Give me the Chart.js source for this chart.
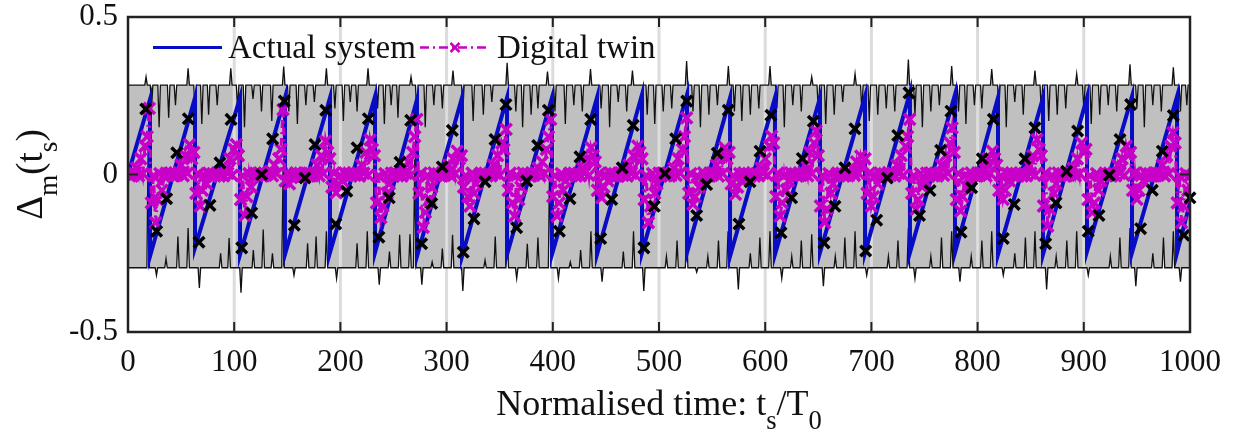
<!DOCTYPE html>
<html>
<head>
<meta charset="utf-8">
<script src="https://cdn.jsdelivr.net/npm/chart.js@4.4.0/dist/chart.umd.min.js"></script>
<style>
  html, body { margin: 0; padding: 0; background: #fff; }
</style>
</head>
<body>
<canvas id="myChart" width="1240" height="438"></canvas>
<script>
// actual system: sawtooth, one drop per cycle (time, value just before, value just after)
const dropTimes = [20.7, 63.1, 105.5, 147.8, 190.2, 232.6, 272.1, 314.5, 356.9, 399.2, 441.6, 484,
  526.4, 566.9, 609.2, 651.6, 694, 736.3, 778.7, 819.2, 861.6, 903, 945.4, 987.8];
const peakVals = [0.238, 0.244, 0.244, 0.244, 0.244, 0.248, 0.238, 0.244, 0.244, 0.244, 0.244, 0.254,
  0.254, 0.244, 0.244, 0.244, 0.248, 0.26, 0.254, 0.244, 0.244, 0.244, 0.248, 0.248];
const troughVals = [-0.26, -0.232, -0.254, -0.254, -0.248, -0.248, -0.26, -0.26, -0.254, -0.254, -0.254, -0.248,
  -0.248, -0.26, -0.254, -0.248, -0.248, -0.248, -0.248, -0.254, -0.254, -0.244, -0.248, -0.248];
const startVal = 0;
const endVal = -0.09;

// black sample crosses on the actual system
const sampleT = [16.7, 27, 36.4, 45.9, 56.8, 66.9, 77.2, 86.6, 97, 107.1, 116.5, 125.9, 136.2, 147.2, 156.6, 166.7,
  176.1, 186.2, 195.6, 206, 215.7, 226.3, 236.3, 246, 256.1, 266.2, 276.5, 286, 295.9, 305.4, 315.7, 325.8,
  336.2, 345.6, 355.9, 366, 375.4, 385.8, 395.8, 406.2, 416.2, 425.6, 435.7, 445.1, 455.5, 465.4, 475.7, 485.8,
  495.6, 505.6, 515.7, 526.1, 535.5, 544.9, 554.9, 565.2, 575.3, 585.7, 595.1, 605.4, 614.9, 624.9, 634.9, 645.3,
  655.4, 665.7, 675.1, 684.5, 694.6, 705, 715, 724.8, 735.4, 745.3, 755.2, 765.2, 774.9, 784.4, 794.4, 804.4,
  814.8, 824.2, 834.5, 844.6, 854, 864.1, 873.8, 883.8, 894.2, 904.2, 914.3, 924, 934.1, 944.1, 953.5, 964.5,
  973.9, 984.3, 994.3, 1000];
const sampleV = [0.208, -0.18, -0.077, 0.069, 0.177, -0.215, -0.098, 0.037, 0.175, -0.233, -0.122, 0, 0.113, 0.233, -0.161, -0.011,
  0.095, 0.204, -0.157, -0.053, 0.085, 0.177, -0.199, -0.074, 0.039, 0.172, -0.22, -0.092, 0.024, 0.14, -0.247, -0.141,
  -0.023, 0.111, 0.222, -0.169, -0.021, 0.092, 0.204, -0.18, -0.077, 0.056, 0.175, -0.203, -0.079, 0.021, 0.156, -0.233,
  -0.101, 0.003, 0.113, 0.233, -0.13, -0.032, 0.067, 0.204, -0.157, -0.023, 0.074, 0.188, -0.185, -0.074, 0.051, 0.169,
  -0.217, -0.101, 0.021, 0.145, -0.243, -0.145, -0.011, 0.124, 0.259, -0.13, -0.051, 0.077, 0.201, -0.183, -0.042, 0.05,
  0.175, -0.203, -0.095, 0.05, 0.148, -0.22, -0.09, 0.01, 0.138, -0.18, -0.13, -0.002, 0.111, 0.222, -0.172, -0.05,
  0.074, 0.187, -0.193, -0.074];

// digital twin, one value every twinStep time units
const twinStep = 2;
const twinVals = [
  0, .004, -.005, .003, .02, -.004, .05, .003, .09, .12, .21, -.09, -.004, -.153, -.08, .003, -.05, -.005, .004, -.003, .005,
  -.004, .005, -.003, .004, .03, -.004, .06, .004, .095, .05, .07, -.06, .003, -.1, -.05, -.004, -.03, .004, -.005, .003, -.004,
  .004, -.005, .003, -.004, .02, .004, .05, -.003, .08, .095, .06, -.08, -.004, -.13, -.07, .003, -.04, -.005, .004, -.003, .005,
  -.005, .004, -.003, .005, .01, -.004, .03, .003, .05, .08, .206, -.02, .004, -.03, -.01, -.004, .005, -.003, .004, -.005, .003,
  .004, -.005, .003, -.004, .005, .03, -.004, .06, .003, .106, .07, .05, -.04, .004, -.058, -.03, -.004, -.02, .005, -.003, .004,
  -.004, .005, -.003, .004, -.005, .03, .004, .07, -.003, .11, .08, .06, -.09, -.004, -.137, -.1, .003, -.06, -.03, .004, -.005,
  .005, -.004, .003, -.005, .02, .004, .04, -.003, .07, .12, .175, -.06, .004, -.168, -.12, -.003, -.08, -.04, .005, -.004, .003,
  -.004, .005, -.003, .004, .03, -.005, .05, .003, .074, .05, .06, -.04, -.004, -.07, -.1, .004, -.06, -.03, -.005, .003, -.004,
  .004, -.005, .003, -.004, .03, .004, .06, -.003, .1, .08, .143, -.05, .004, -.09, -.132, -.003, -.08, -.04, .005, -.004, .003,
  -.005, .004, -.003, .005, .02, -.004, .04, .003, .08, .12, .175, -.07, -.004, -.132, -.09, .003, -.05, -.02, -.005, .004, -.003,
  .004, -.005, .003, -.004, .02, .004, .05, -.003, .085, .06, .04, -.05, .004, -.074, -.04, -.003, -.02, .005, -.004, .003, -.005,
  -.004, .005, -.003, .004, -.005, .03, .004, .06, -.003, .09, .07, .05, -.08, -.004, -.153, -.1, .003, -.06, -.03, .004, -.005,
  .005, -.004, .003, -.005, .004, .02, -.003, .05, .004, .08, .12, .18, -.06, .003, -.095, -.07, -.004, -.04, -.02, .005, -.003,
  -.004, .005, -.003, .004, .03, -.005, .06, .003, .085, .05, .07, -.03, -.004, -.063, -.04, .003, -.02, .005, -.004, .003, -.005,
  .004, -.005, .003, -.004, .02, .004, .05, -.003, .09, .122, .1, -.07, .004, -.132, -.09, -.003, -.05, -.02, .005, -.004, .003,
  -.005, .004, -.003, .005, .03, -.004, .07, .003, .1, .138, .06, -.1, -.004, -.153, -.11, .003, -.06, -.03, -.005, .004, -.003,
  .004, -.005, .003, -.004, .005, .02, -.003, .04, .004, .058, .03, .05, -.06, .004, -.1, -.07, -.003, -.03, .005, -.004, .003,
  -.004, .005, -.003, .004, -.005, .03, .004, .06, -.003, .09, .12, .175, -.06, -.004, -.111, -.08, .003, -.04, -.02, .004, -.005,
  .005, -.004, .003, -.005, .004, .03, -.003, .06, .004, .1, .148, .07, -.08, .003, -.116, -.07, -.004, -.04, -.01, .005, -.003,
  -.004, .005, -.003, .004, .02, -.005, .05, .003, .074, .05, .03, -.05, -.004, -.079, -.05, .003, -.02, .005, -.004, .003, -.005,
  .004, -.005, .003, -.004, .03, .004, .06, -.003, .111, .08, .06, -.1, .004, -.164, -.11, -.003, -.06, -.03, .005, -.004, .003,
  -.005, .004, -.003, .005, .02, -.004, .05, .003, .1, .07, .08, -.08, -.004, -.121, -.09, .003, -.05, -.02, -.005, .004, -.003,
  .004, -.005, .003, -.004, .03, .004, .05, -.003, .09, .06, .07, -.05, .004, -.079, -.05, -.003, -.02, .005, -.004, .003, -.005,
  -.004, .005, -.003, .004, .03, -.004, .06, .003, .09, .133, .1, -.09, -.004, -.153, -.1, .003, -.05, -.005
];

// grey envelope: flat edges with narrow spikes
const bandTop = 0.284;
const bandBottom = -0.296;
const upperSpikeT = [17, 22.2, 29.3, 38.3, 44.7, 56.6, 63.1, 69.5, 75.9, 84, 96.8, 103.2, 109.7, 117.7, 125.7, 135.4,
  146.6, 151.4, 159.5, 167.5, 175.5, 186.8, 194.8, 202.8, 209.3, 215.7, 226, 235, 241.4, 247.8, 254.2,
  266.5, 271.9, 279.9, 288, 296, 306, 315.3, 325, 334.6, 342.6, 357, 365.2, 371.6, 379.6, 386,
  395, 402, 411.8, 419.8, 427.8, 435.5, 445.5, 453.5, 461.6, 469.6, 475, 488.9, 496, 504, 512,
  526, 532, 539, 547, 555, 565.3, 571, 578, 586, 594, 604.5, 611, 618, 626, 634,
  643.8, 650, 657, 665, 673, 684.6, 691, 698, 706, 714, 722, 734.8, 741, 748, 756, 764,
  775.6, 782, 789, 797, 804, 813.3, 820, 827, 835, 843, 854, 860, 867, 875, 883,
  893.3, 900, 907, 915, 923, 931, 943.5, 950, 957, 965, 973, 984.3, 991, 997];
const upperSpikeV = [0.31, 0.21, 0.15, 0.18, 0.22, 0.337, 0.2, 0.16, 0.19, 0.22, 0.337, 0.21, 0.15, 0.24, 0.2, 0.17,
  0.343, 0.2, 0.16, 0.22, 0.23, 0.337, 0.21, 0.17, 0.23, 0.2, 0.337, 0.21, 0.16, 0.22, 0.18,
  0.31, 0.19, 0.15, 0.22, 0.21, 0.33, 0.2, 0.17, 0.19, 0.23, 0.355, 0.2, 0.15, 0.19, 0.21,
  0.327, 0.2, 0.16, 0.22, 0.2, 0.335, 0.21, 0.15, 0.23, 0.2, 0.33, 0.19, 0.16, 0.2, 0.21,
  0.36, 0.2, 0.15, 0.19, 0.22, 0.344, 0.2, 0.17, 0.19, 0.21, 0.344, 0.21, 0.15, 0.22, 0.2,
  0.31, 0.2, 0.16, 0.19, 0.23, 0.32, 0.2, 0.17, 0.19, 0.21, 0.2, 0.365, 0.19, 0.15, 0.2, 0.22,
  0.344, 0.2, 0.16, 0.22, 0.21, 0.335, 0.21, 0.15, 0.23, 0.19, 0.33, 0.2, 0.17, 0.19, 0.21,
  0.32, 0.2, 0.16, 0.19, 0.22, 0.2, 0.35, 0.21, 0.15, 0.22, 0.2, 0.34, 0.2, 0.22];
const lowerSpikeT = [19, 26.8, 35.8, 47, 56.6, 67.2, 87.2, 95.2, 106.4, 118, 127.3, 136, 146, 156.3,
  169.1, 177.1, 186.8, 196.4, 215.7, 225.3, 236.6, 246.2, 255.8, 265.5, 270, 276.7,
  286.4, 296, 305.6, 315.3, 336.2, 345.8, 357.1, 366, 376, 386, 397, 405.3,
  416.5, 426.2, 435.9, 446.4, 466.4, 476, 485.7, 507, 517, 526, 535.5, 546, 556, 565, 574.7,
  586, 595, 604.5, 615.6, 625, 634, 643.8, 654.8, 666, 675, 684.6, 695.6, 716, 725, 734.8, 741,
  756, 766, 775.6, 783.4, 794, 804, 813.3, 824.2, 835, 845, 854, 865, 874, 884, 893.3, 904.2,
  925, 934, 943.5, 949, 965, 975, 984.3, 991];
const lowerSpikeV = [0.1, -0.32, -0.267, -0.197, -0.17, -0.36, -0.25, -0.202, -0.375, -0.24, -0.175, -0.25, 0.015, -0.32,
  -0.218, -0.197, -0.18, -0.33, -0.218, -0.18, -0.35, -0.245, -0.191, -0.19, 0.048, -0.35,
  -0.278, -0.235, -0.191, -0.37, -0.272, -0.197, -0.17, -0.33, -0.22, -0.2, 0.038, -0.33,
  -0.278, -0.24, -0.18, -0.34, -0.245, -0.18, -0.37, -0.26, -0.21, -0.17, -0.31, -0.26, -0.21, -0.18, -0.365,
  -0.25, -0.2, -0.18, -0.33, -0.26, -0.21, -0.19, -0.355, -0.26, -0.2, -0.18, -0.32, -0.26, -0.21, -0.17, -0.33,
  -0.26, -0.2, -0.18, -0.34, -0.26, -0.21, -0.18, -0.32, -0.25, -0.2, -0.18, -0.365, -0.26, -0.21, -0.18, -0.32,
  -0.26, -0.2, -0.17, -0.355, -0.25, -0.2, -0.18, -0.34];

const xTicks = [0, 100, 200, 300, 400, 500, 600, 700, 800, 900, 1000];
const yTicks = [-0.5, 0, 0.5];

const serif = "'Liberation Serif', 'Times New Roman', serif";
const blue = "rgb(8, 12, 196)";
const magenta = "rgb(200, 0, 200)";

// tables for the library
const actualPts = [{ x: 0, y: startVal }];
dropTimes.forEach((t, i) => {
    actualPts.push({ x: t, y: peakVals[i] }, { x: t, y: troughVals[i] });
});
actualPts.push({ x: 1000, y: endVal });

const samplePts = sampleT.map((t, i) => ({ x: t, y: sampleV[i] }));
const twinPts = twinVals.map((v, i) => ({ x: i * twinStep, y: v }));

const spikeLine = (base, ts, vs) => {
    const pts = [{ x: 0, y: base }];
    ts.forEach((t, i) => {
        pts.push({ x: t - 1.2, y: base }, { x: t, y: vs[i] }, { x: t + 1.2, y: base });
    });
    pts.push({ x: 1000, y: base });
    return pts;
};

const drawCross = (ctx, x, y, r) => {
    ctx.beginPath();
    ctx.moveTo(x - r, y - r); ctx.lineTo(x + r, y + r);
    ctx.moveTo(x - r, y + r); ctx.lineTo(x + r, y - r);
    ctx.stroke();
};

// text with subscripts: parts = [[text, isSub], ...]
const drawRich = (ctx, parts, size, centerX, baseY) => {
    const subSize = size * 0.74;
    const widths = parts.map(([s, sub]) => {
        ctx.font = (sub ? subSize : size) + "px " + serif;
        return ctx.measureText(s).width;
    });
    let x = centerX - widths.reduce((a, b) => a + b, 0) / 2;
    parts.forEach(([s, sub], i) => {
        ctx.font = (sub ? subSize : size) + "px " + serif;
        ctx.fillText(s, x, baseY + (sub ? size * 0.4 : 0));
        x += widths[i];
    });
};

const noScalePadding = (scale) => {
    scale.paddingTop = 0;
    scale.paddingBottom = 0;
    scale.paddingLeft = 0;
    scale.paddingRight = 0;
};

const decorations = {
    id: "decorations",
    beforeDatasetsDraw(chart) {
        const { ctx, chartArea: a, scales: { x } } = chart;
        ctx.save();
        ctx.strokeStyle = "#dcdcdc";
        ctx.lineWidth = 3;
        xTicks.slice(1, -1).forEach((v) => {
            const px = x.getPixelForValue(v);
            ctx.beginPath();
            ctx.moveTo(px, a.top);
            ctx.lineTo(px, a.bottom);
            ctx.stroke();
        });
        ctx.restore();
    },
    afterDatasetsDraw(chart) {
        const { ctx, chartArea: a, scales: { x, y } } = chart;
        ctx.save();
        ctx.strokeStyle = "#222";
        ctx.lineWidth = 2.5;
        ctx.strokeRect(a.left, a.top, a.right - a.left, a.bottom - a.top);
        ctx.lineWidth = 2;
        xTicks.forEach((v) => {
            const px = x.getPixelForValue(v);
            ctx.beginPath();
            ctx.moveTo(px, a.bottom); ctx.lineTo(px, a.bottom - 10);
            ctx.moveTo(px, a.top); ctx.lineTo(px, a.top + 10);
            ctx.stroke();
        });
        yTicks.forEach((v) => {
            const py = y.getPixelForValue(v);
            ctx.beginPath();
            ctx.moveTo(a.left, py); ctx.lineTo(a.left + 10, py);
            ctx.moveTo(a.right, py); ctx.lineTo(a.right - 10, py);
            ctx.stroke();
        });

        // legend
        ctx.fillStyle = "#111";
        ctx.font = "33px " + serif;
        ctx.textBaseline = "alphabetic";
        ctx.strokeStyle = blue;
        ctx.lineWidth = 3;
        ctx.beginPath(); ctx.moveTo(153, 47.5); ctx.lineTo(222, 47.5); ctx.stroke();
        ctx.fillText(chart.data.datasets[0].label, 228, 58);
        ctx.strokeStyle = magenta;
        ctx.lineWidth = 2.5;
        ctx.setLineDash([9, 4, 2, 4]);
        ctx.beginPath(); ctx.moveTo(420, 47.5); ctx.lineTo(490, 47.5); ctx.stroke();
        ctx.setLineDash([]);
        drawCross(ctx, 455, 47.5, 4.5);
        ctx.fillText(chart.data.datasets[1].label, 497, 58);
        ctx.restore();
    },
    afterDraw(chart) {
        const { ctx, chartArea: a } = chart;
        ctx.save();
        ctx.fillStyle = "#111";
        ctx.textBaseline = "alphabetic";
        drawRich(ctx, [["Normalised time: t", false], ["s", true], ["/T", false], ["0", true]],
            36, (a.left + a.right) / 2, 415);
        ctx.translate(42, (a.top + a.bottom) / 2);
        ctx.rotate(-Math.PI / 2);
        drawRich(ctx, [["\u0394", false], ["m", true], ["(t", false], ["s", true], [")", false]], 37, 0, 0);
        ctx.restore();
    },
};

const ctx = document.getElementById("myChart").getContext("2d");
new Chart(ctx, {
    type: "line",
    data: {
        datasets: [
            {
                label: "Actual system",
                data: actualPts,
                borderColor: blue,
                borderWidth: 4,
                pointRadius: 0,
                order: 2,
            },
            {
                label: "Digital twin",
                data: twinPts,
                borderColor: magenta,
                borderWidth: 3,
                borderDash: [8, 4, 2, 4],
                pointStyle: "crossRot",
                pointRadius: 8,
                pointBorderWidth: 3.5,
                pointBorderColor: magenta,
                order: 1,
            },
            {
                label: "samples",
                data: samplePts,
                showLine: false,
                pointStyle: "crossRot",
                pointRadius: 7.5,
                pointBorderWidth: 3.5,
                pointBorderColor: "#000",
                borderColor: "#000",
                clip: 10,
                order: 0,
            },
            {
                label: "upper",
                data: spikeLine(bandTop, upperSpikeT, upperSpikeV),
                borderColor: "#111",
                borderWidth: 1.3,
                pointRadius: 0,
                fill: 4,
                backgroundColor: "rgb(192, 192, 192)",
                order: 3,
            },
            {
                label: "lower",
                data: spikeLine(bandBottom, lowerSpikeT, lowerSpikeV),
                borderColor: "#111",
                borderWidth: 1.3,
                pointRadius: 0,
                order: 4,
            },
        ],
    },
    options: {
        responsive: false,
        animation: false,
        devicePixelRatio: 1,
        layout: { padding: { left: 0, right: 50, top: 17, bottom: 0 } },
        elements: { line: { tension: 0 } },
        plugins: {
            legend: { display: false },
            tooltip: { enabled: false },
            filler: { drawTime: "beforeDatasetsDraw", propagate: false },
        },
        scales: {
            x: {
                type: "linear",
                min: 0,
                max: 1000,
                grid: { display: false, drawTicks: false },
                border: { display: false },
                afterFit: (scale) => { scale.height = 106; noScalePadding(scale); },
                afterBuildTicks: (scale) => { scale.ticks = xTicks.map((v) => ({ value: v })); },
                ticks: {
                    color: "#111",
                    font: { family: serif, size: 31 },
                    padding: 12,
                    maxRotation: 0,
                    autoSkip: false,
                    callback: (v) => String(v),
                },
            },
            y: {
                min: -0.5,
                max: 0.5,
                grid: { display: false, drawTicks: false },
                border: { display: false },
                afterFit: (scale) => { scale.width = 128; noScalePadding(scale); },
                afterBuildTicks: (scale) => { scale.ticks = yTicks.map((v) => ({ value: v })); },
                ticks: {
                    color: "#111",
                    font: { family: serif, size: 31 },
                    padding: 10,
                    callback: (v) => String(v),
                },
            },
        },
    },
    plugins: [decorations],
});
</script>
</body>
</html>
